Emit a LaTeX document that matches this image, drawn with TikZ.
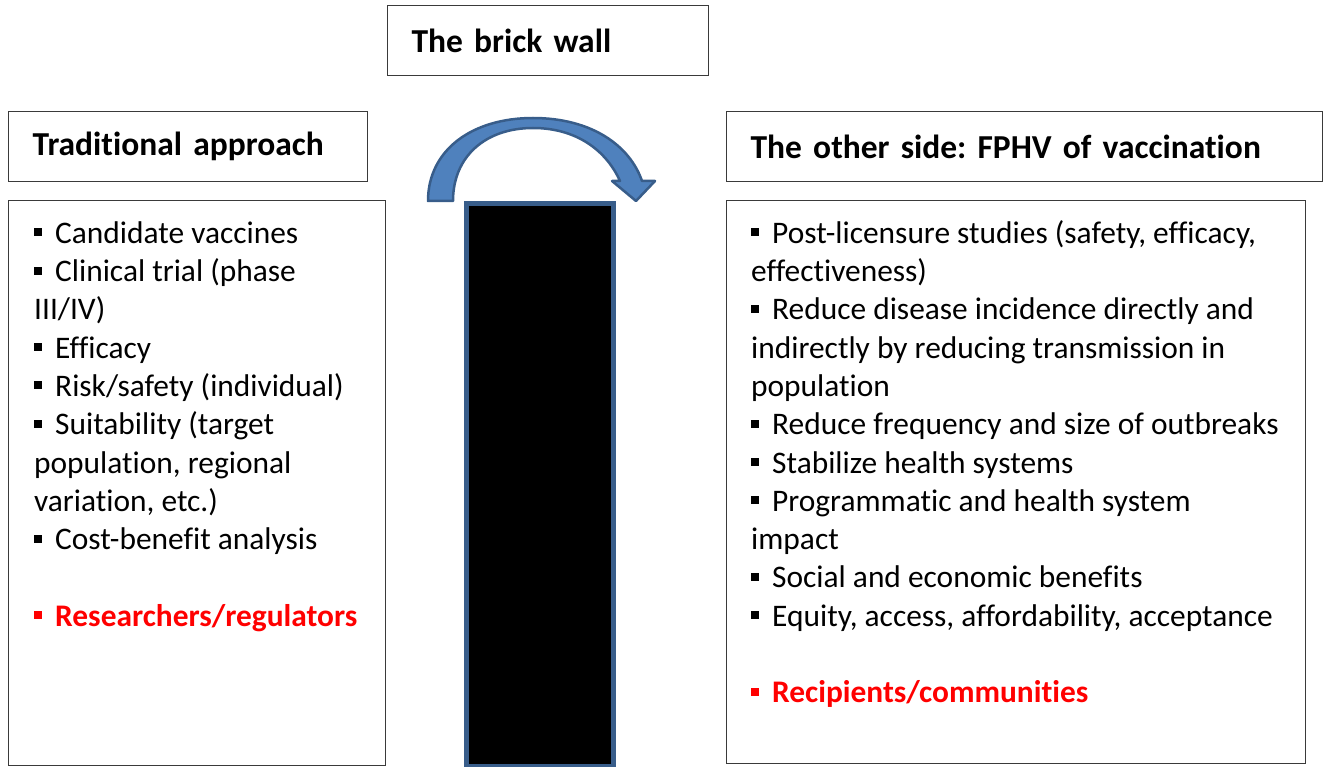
\documentclass[tikz,border=0pt]{standalone}
\usepackage{fontspec}
\setmainfont{Carlito}[Ligatures=NoCommon]
\definecolor{arrowfill}{HTML}{4F81BD}
\definecolor{arrowedge}{HTML}{385D8A}
\definecolor{boxedge}{HTML}{3A3A3A}
\definecolor{keyred}{HTML}{FF0000}
\newcommand\bul[1][black]{\textcolor{#1}{\rule[7pt]{8pt}{8pt}}\hspace{13pt}}
\newcommand\firststrut{\rule{0pt}{25pt}}
\frenchspacing
\begin{document}
\begin{tikzpicture}[x=1pt,y=-1pt,
  box/.style={draw=boxedge,line width=1.3pt,fill=white,anchor=north west,inner sep=0pt},
  header/.style={box,inner xsep=24pt,align=left,font=\fontsize{33.5}{40}\selectfont\bfseries},
  listtext/.style={anchor=north west,inner sep=0pt,align=left,font=\fontsize{31.4}{38.3}\selectfont}]
\useasboundingbox (0,0) rectangle (1326,767);
% header boxes
\node[header,minimum width=321pt,minimum height=70pt,text width=273pt] (wall) at (387,5) {The brick wall};
\node[header,minimum width=359pt,minimum height=70pt,text width=311pt] (trad) at (8,111) {Traditional approach};
\node[header,minimum width=596pt,minimum height=70pt,text width=548pt] (other) at (726,111) {The other side: FPHV of vaccination};
% list boxes
\node[box,minimum width=377pt,minimum height=565pt] (leftbox) at (8,200) {};
\node[box,minimum width=579pt,minimum height=563pt] (rightbox) at (726,200) {};
% texts
\node[listtext] (lefttext) at (34,218) {\firststrut\bul Candidate vaccines\\
\bul Clinical trial (phase\\
III/IV)\\
\bul Efficacy\\
\bul Risk/safety (individual)\\
\bul Suitability (target\\
population, regional\\
variation, etc.)\\
\bul Cost-benefit analysis\\[38.3pt]
{\color{keyred}\bfseries\bul[keyred]Researchers/regulators}};
\node[listtext] (righttext) at (751,218) {\firststrut\bul Post-licensure studies (safety, efficacy,\\
effectiveness)\\
\bul Reduce disease incidence directly and\\
indirectly by reducing transmission in\\
population\\
\bul Reduce frequency and size of outbreaks\\
\bul Stabilize health systems\\
\bul Programmatic and health system\\
impact\\
\bul Social and economic benefits\\
\bul Equity, access, affordability, acceptance\\[38.3pt]
{\color{keyred}\bfseries\bul[keyred]Recipients/communities}};
% the wall
\node[draw=arrowedge,line width=5pt,fill=black,anchor=north west,inner sep=0pt,minimum width=147pt,minimum height=562pt] (brick) at (463.5,201.5) {};
% curved arrow
\filldraw[fill=arrowfill,draw=arrowedge,line width=2.5pt,line join=round]
  (428,201) .. controls (428,150) and (472,118) .. (533,118)
  .. controls (592,118) and (630,146) .. (642,181)
  -- (655,181) -- (636,201) -- (612,181) -- (620,181)
  .. controls (606,150) and (576,128) .. (533,128)
  .. controls (486,128) and (453,156) .. (453,201) -- cycle;
\end{tikzpicture}
\end{document}
